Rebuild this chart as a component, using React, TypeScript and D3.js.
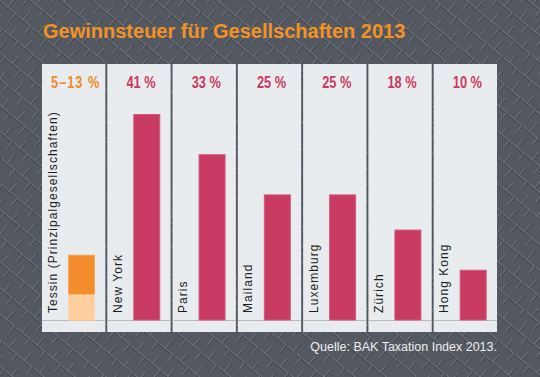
import React from "react";
import * as d3 from "d3";

const categories = ["Tessin (Prinzipalgesellschaften)", "New York", "Paris", "Mailand", "Luxemburg", "Zürich", "Hong Kong"];
const values = [13, 41, 33, 25, 25, 18, 10];
const lowValues = [5, 0, 0, 0, 0, 0, 0];
const valueLabels = ["5–13 %", "41 %", "33 %", "25 %", "25 %", "18 %", "10 %"];
const title = "Gewinnsteuer für Gesellschaften 2013";
const source = "Quelle: BAK Taxation Index 2013.";

const W = 540, H = 377;

export default function App() {
  const x = d3.scaleBand<string>().domain(categories).range([42, 497]).paddingInner(0.03).paddingOuter(0);
  const y = d3.scaleLinear().domain([0, 41]).range([320, 114]);
  const bw = x.bandwidth();
  const fontMain = "'Liberation Sans', Arial, Helvetica, sans-serif";
  return (
    <svg width={W} height={H} style={{ position: "absolute", left: 0, top: 0, display: "block" }}>
      <defs>
        <pattern id="weave" width="20" height="20" patternUnits="userSpaceOnUse" patternTransform="rotate(40)">
          <rect width="20" height="20" fill="#545961" />
          <path d="M0,0.5 H20" stroke="#6f757e" strokeWidth="1" />
          <path d="M0,1.5 H20" stroke="#41454c" strokeWidth="1" />
          <path d="M0.5,0 V10" stroke="#6f757e" strokeWidth="1" />
          <path d="M1.5,0 V10" stroke="#41454c" strokeWidth="1" />
          <path d="M10.5,10 V20" stroke="#6f757e" strokeWidth="1" />
          <path d="M11.5,10 V20" stroke="#41454c" strokeWidth="1" />
        </pattern>
      </defs>
      <rect width={W} height={H} fill="url(#weave)" />
      <text x={43} y={38} fill="#f39224" fontFamily={fontMain} fontWeight="bold" fontSize={20}>{title}</text>
      {categories.map((c, i) => {
        const x0 = x(c)!;
        const cx = x0 + bw / 2;
        const isT = lowValues[i] > 0;
        return (
          <g key={c}>
            <rect x={x0} y={64} width={bw} height={268} fill="#e8ecee" />
            <line x1={x0} x2={x0 + bw} y1={320.5} y2={320.5} stroke="#b8bcbf" strokeWidth={1} />
            <rect x={x0 + 26.5} y={y(values[i]) + 0.5} width={26} height={y(0) - y(values[i]) - 0.5} fill={isT ? "#f28c2c" : "#c83a62"} stroke={isT ? "#f6a75a" : "#d25a7c"} strokeWidth={1} />
            {isT && (
              <rect x={x0 + 26.5} y={y(lowValues[i])} width={26} height={y(0) - y(lowValues[i])} fill="#fecf9c" stroke="#fdd7ad" strokeWidth={1} />
            )}
            <text transform={`translate(${cx + 2},88) scale(0.8,1)`} textAnchor="middle" fill={isT ? "#f08a26" : "#c83a62"} fontFamily={fontMain} fontWeight="bold" fontSize={16} letterSpacing={isT ? 1.2 : 0}>{valueLabels[i]}</text>
            <text transform={`translate(${x0 + 14.5},313) rotate(-90)`} fill="#1e1e1e" fontFamily={fontMain} fontSize={12} letterSpacing={1.05}>{c}</text>
          </g>
        );
      })}
      <text x={497} y={351} textAnchor="end" fill="#eceef0" fontFamily={fontMain} fontSize={12.5}>{source}</text>
    </svg>
  );
}
